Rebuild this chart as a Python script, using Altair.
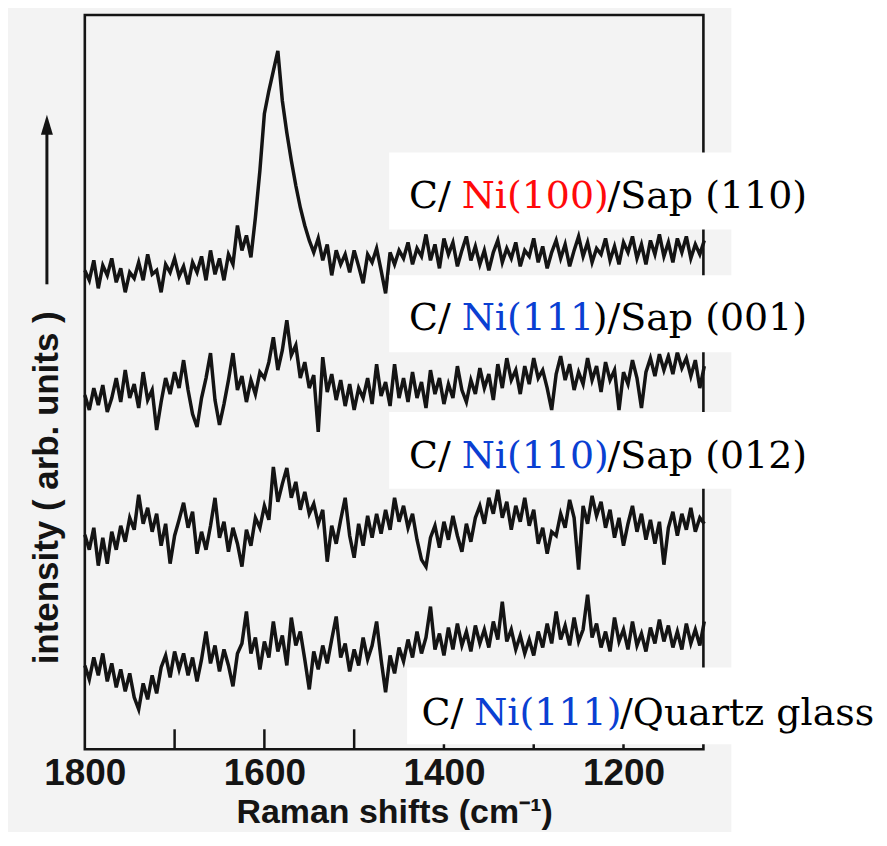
import altair as alt
import pandas as pd

# Raman shift grid (cm^-1), read every 5 cm^-1 from 1800 down to 1110
wavenumber = list(range(1800, 1109, -5))

# Intensities (arb. units, offset traces)
ni100_sap110 = [
    480, 470, 490, 462, 485, 475, 492, 468, 482, 458,
    478, 472, 488, 470, 496, 476, 480, 458, 486, 478,
    492, 474, 484, 466, 488, 478, 494, 470, 500, 476,
    492, 470, 496, 486, 525, 500, 515, 493, 533, 580,
    637, 660, 680, 700, 650, 618, 590, 565, 543, 525,
    510, 498, 512, 490, 506, 475, 500, 486, 496, 478,
    500, 484, 467, 496, 488, 502, 480, 457, 498, 486,
    500, 492, 508, 486, 502, 494, 516, 490, 506, 482,
    512, 496, 508, 484, 500, 514, 490, 504, 486, 500,
    480, 498, 510, 488, 502, 492, 508, 484, 500, 494,
    512, 488, 504, 482, 498, 510, 492, 506, 484, 500,
    514, 494, 508, 488, 502, 496, 512, 490, 504, 486,
    508, 498, 514, 492, 506, 486, 510, 496, 516, 494,
    508, 488, 512, 498, 514, 492, 506, 496, 510,
]
ni111_sap001 = [
    355, 340, 362, 345, 365, 338, 352, 372, 348, 380,
    352, 366, 342, 378, 350, 360, 320, 348, 372, 356,
    378, 362, 390, 360, 336, 323, 352, 372, 397, 350,
    325, 346, 370, 397, 360, 374, 348, 370, 356, 378,
    372, 388, 413, 380, 400, 430, 395, 405, 372, 388,
    362, 375, 318, 393, 358, 376, 350, 370, 344, 366,
    340, 362, 352, 372, 346, 386, 354, 368, 344, 386,
    352, 372, 348, 378, 352, 368, 342, 380, 356, 372,
    346, 366, 352, 384, 360, 348, 370, 356, 382, 362,
    376, 350, 386, 362, 392, 370, 380, 356, 384, 366,
    392, 372, 380, 362, 340, 376, 394, 370, 386, 360,
    378, 366, 392, 370, 384, 358, 388, 370, 380, 340,
    378, 366, 390, 372, 342, 378, 392, 374, 396, 380,
    394, 376, 398, 382, 392, 374, 390, 362, 384,
]
ni110_sap012 = [
    215, 200, 222, 184, 212, 186, 218, 200, 224, 208,
    232, 220, 255, 226, 242, 218, 236, 204, 226, 186,
    214, 230, 247, 222, 238, 196, 218, 200, 224, 252,
    212, 228, 198, 222, 206, 183, 220, 204, 232, 222,
    244, 230, 283, 248, 266, 282, 252, 268, 240, 258,
    236, 246, 226, 240, 188, 224, 206, 230, 252, 214,
    192, 226, 204, 234, 212, 236, 216, 240, 220, 252,
    228, 244, 222, 236, 210, 190, 183, 212, 224, 202,
    228, 210, 234, 214, 198, 226, 208, 232, 244, 226,
    252, 236, 260, 232, 248, 220, 244, 228, 252, 224,
    240, 206, 222, 196, 218, 214, 236, 222, 250, 232,
    180, 244, 226, 254, 234, 248, 222, 240, 212, 232,
    204, 226, 244, 218, 236, 210, 230, 206, 228, 185,
    222, 238, 214, 236, 220, 242, 218, 232, 226,
]
ni111_quartz = [
    84, 70, 92, 74, 96, 68, 86, 62, 80, 58,
    76, 52, 40, 66, 50, 74, 56, 82, 94, 72,
    98, 80, 96, 74, 92, 68, 90, 118, 86, 104,
    78, 100, 84, 63, 96, 106, 138, 96, 112, 80,
    108, 92, 128, 98, 114, 84, 132, 104, 118, 90,
    60, 98, 80, 104, 86, 110, 133, 92, 106, 78,
    100, 84, 112, 90, 104, 128, 90, 57, 94, 76,
    102, 88, 110, 92, 118, 96, 112, 143, 100, 116,
    94, 122, 100, 126, 104, 118, 98, 124, 106, 120,
    102, 128, 110, 148, 108, 120, 100, 114, 96, 110,
    94, 118, 102, 126, 106, 138, 110, 124, 104, 132,
    108, 120, 155, 112, 126, 102, 118, 98, 132, 108,
    120, 100, 128, 104, 116, 98, 122, 106, 130, 108,
    124, 102, 118, 100, 126, 106, 120, 104, 128,
]

series_names = ["Ni(100)/Sap(110)", "Ni(111)/Sap(001)", "Ni(110)/Sap(012)", "Ni(111)/Quartz"]
series_values = [ni100_sap110, ni111_sap001, ni110_sap012, ni111_quartz]

tick_labels = [1800, 1600, 1400, 1200]
minor_ticks = [1700, 1600, 1500, 1400, 1300, 1200]

# label annotations: position (data coords), box extent, coloured segments
label_x = [1439, 1439, 1439, 1425]
label_y = [542, 420, 282, 24]
box_x = [1461, 1461, 1461, 1441]
box_y = [521, 398, 261, 5]
box_y2 = [598, 475, 338, 82]
label_segments = [
    [("C/ ", "black"), ("Ni(100)", "red"), ("/Sap (110)", "black")],
    [("C/ ", "black"), ("Ni(111", "blue"), (")/Sap (001)", "black")],
    [("C/ ", "black"), ("Ni(110)", "blue"), ("/Sap (012)", "black")],
    [("C/ ", "black"), ("Ni(111)", "blue"), ("/Quartz glass", "black")],
]

# ---------------------------------------------------------------------------
rows = []
for name, vals in zip(series_names, series_values):
    for w, v in zip(wavenumber, vals):
        rows.append({"series": name, "w": w, "v": v})
df = pd.DataFrame(rows)

xscale = alt.Scale(domain=[1800, 1111], nice=False, zero=False)
yscale = alt.Scale(domain=[0, 736], nice=False, zero=False)
INK = "#141414"
SANS = "Liberation Sans"
SERIF = "DejaVu Serif"
COLORS = {"black": "#000000", "red": "#ff0a0a", "blue": "#0a3fd2"}
FS = 38

# DejaVu Serif advance widths (em) for offsetting coloured segments
W = {"C": .735, "/": .337, " ": .318, "N": .838, "i": .321, "(": .390, ")": .390,
     "0": .636, "1": .636, "2": .636, "S": .686, "a": .596, "p": .642}


def text_width(s):
    return sum(W.get(ch, .6) for ch in s) * FS


x_axis = alt.Axis(
    values=tick_labels, format="d", title="Raman shifts (cm⁻¹)",
    ticks=False, domain=False, grid=False,
    labelFont=SANS, labelFontWeight="bold", labelFontSize=37, labelColor=INK,
    labelPadding=6, labelFlush=False, labelOverlap=False,
    titleFont=SANS, titleFontWeight="bold", titleFontSize=34, titleColor=INK,
    titleY=63, titleBaseline="middle")


def X(field="w:Q"):
    return alt.X(field, scale=xscale, axis=x_axis)


def Y(field="v:Q"):
    return alt.Y(field, scale=yscale, axis=None)


lines = alt.Chart(df).mark_line(color=INK, strokeWidth=3.5, strokeJoin="miter").encode(
    x=X(), y=Y(), detail="series:N",
)

ticks_df = pd.DataFrame({"w": minor_ticks, "v": [0] * len(minor_ticks), "v2": [20] * len(minor_ticks)})
ticks = alt.Chart(ticks_df).mark_rule(color=INK, strokeWidth=2.5).encode(
    x=X(), y=Y(), y2="v2:Q",
)

one = pd.DataFrame({"a": [0]})
scan_edge = alt.Chart(one).mark_rect(color="white").encode(
    x=alt.value(648), x2=alt.value(800), y=alt.value(-10), y2=alt.value(820))

boxes_df = pd.DataFrame({"w": box_x, "w2": [920] * 4, "v": box_y, "v2": box_y2})
boxes = alt.Chart(boxes_df).mark_rect(color="white").encode(
    x=X(), x2="w2:Q", y=Y(), y2="v2:Q",
)

text_layers = []
for lx, ly, segs in zip(label_x, label_y, label_segments):
    offset = 0.0
    for s, c in segs:
        seg_df = pd.DataFrame({"w": [lx], "v": [ly], "t": [s]})
        text_layers.append(
            alt.Chart(seg_df).mark_text(
                align="left", baseline="alphabetic", dx=offset,
                font=SERIF, fontSize=FS, color=COLORS[c],
            ).encode(x=X(), y=Y(), text="t:N")
        )
        offset += text_width(s)

ytitle = alt.Chart(one).mark_text(
    angle=270, font=SANS, fontWeight="bold", fontSize=35, color=INK,
    align="center", baseline="middle",
).encode(x=alt.value(-38), y=alt.value(474), text=alt.value("intensity ( arb. units )"))

arrow_shaft = alt.Chart(one).mark_rule(color=INK, strokeWidth=3).encode(
    x=alt.value(-38), y=alt.value(270), y2=alt.value(112))
arrow_head = alt.Chart(one).mark_point(
    shape="M-0.6,1L0,-1L0.6,1Z", filled=True, size=400, color=INK, opacity=1, strokeWidth=0,
).encode(x=alt.value(-38), y=alt.value(110))

chart = alt.layer(
    scan_edge, lines, ticks, boxes, *text_layers, ytitle, arrow_shaft, arrow_head
).properties(
    width=620, height=736,
    autosize=alt.AutoSizeParams(type="none"),
    padding={"left": 77, "top": 6, "right": 176, "bottom": 82},
    background="#f3f3f3",
).configure_view(stroke=INK, strokeWidth=2.6, fill=None)

chart.save("out.html", embed_options={"renderer": "svg", "actions": False})
